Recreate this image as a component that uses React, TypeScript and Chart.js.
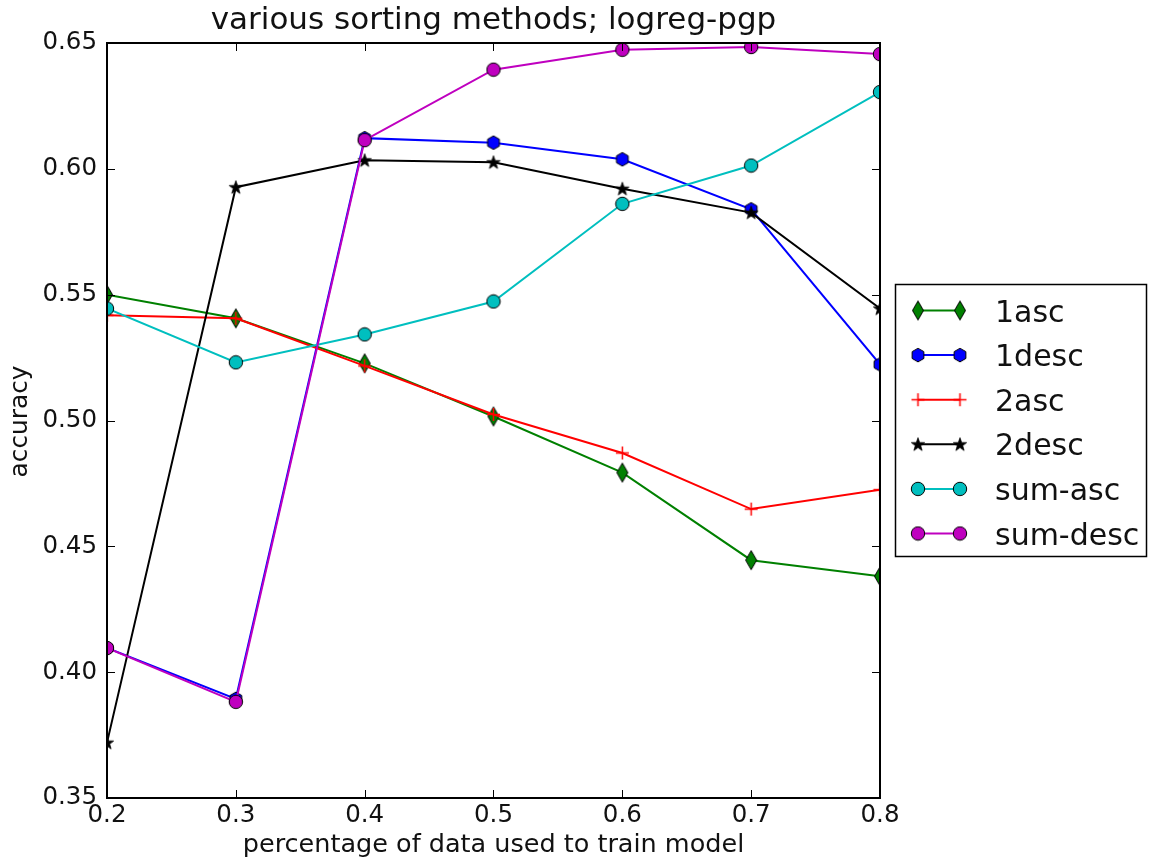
import React, { useEffect, useRef } from 'react';
import { Chart, registerables } from 'chart.js';

Chart.register(...registerables);

const xValues = [0.2, 0.3, 0.4, 0.5, 0.6, 0.7, 0.8];
const asc1 = [0.55, 0.5406, 0.5227, 0.5016, 0.4793, 0.4445, 0.4381];
const desc1 = [0.4096, 0.3894, 0.6122, 0.6104, 0.6038, 0.5839, 0.5223];
const asc2 = [0.5418, 0.5406, 0.5217, 0.5024, 0.4871, 0.4648, 0.4725];
const desc2 = [0.372, 0.5927, 0.6034, 0.6026, 0.5921, 0.5826, 0.5445];
const sumAsc = [0.5445, 0.5231, 0.5342, 0.5473, 0.5861, 0.6013, 0.6305];
const sumDesc = [0.4096, 0.3882, 0.6114, 0.6394, 0.6473, 0.6484, 0.6456];

const seriesLabels = ['1asc', '1desc', '2asc', '2desc', 'sum-asc', 'sum-desc'];
const seriesColors = ['#008000', '#0000ff', '#ff0000', '#000000', '#00bfbf', '#bf00bf'];
const seriesMarkers = ['diamond', 'hexagon', 'plus', 'star', 'circle', 'circle'];
const seriesValues = [asc1, desc1, asc2, desc2, sumAsc, sumDesc];

const xTicks = [0.2, 0.3, 0.4, 0.5, 0.6, 0.7, 0.8];
const yTicks = [0.35, 0.4, 0.45, 0.5, 0.55, 0.6, 0.65];

const titleText = 'various sorting methods; logreg-pgp';
const xTitle = 'percentage of data used to train model';
const yTitle = 'accuracy';

const FONT = '"DejaVu Sans", sans-serif';

function makeMarker(kind: string, color: string): HTMLCanvasElement {
  const c = document.createElement('canvas');
  const g = c.getContext('2d') as CanvasRenderingContext2D;
  const setSize = (w: number, h: number) => {
    c.width = w;
    c.height = h;
  };
  if (kind === 'diamond') {
    setSize(14, 22);
    g.beginPath();
    g.moveTo(7, 1.5);
    g.lineTo(12.5, 11);
    g.lineTo(7, 20.5);
    g.lineTo(1.5, 11);
    g.closePath();
    g.fillStyle = color;
    g.fill();
    g.strokeStyle = '#000';
    g.lineWidth = 1;
    g.stroke();
  } else if (kind === 'hexagon') {
    setSize(16, 16);
    g.beginPath();
    for (let k = 0; k < 6; k++) {
      const a = -Math.PI / 2 + (k * Math.PI) / 3;
      const px = 8 + 6.8 * Math.cos(a);
      const py = 8 + 6.8 * Math.sin(a);
      if (k === 0) g.moveTo(px, py);
      else g.lineTo(px, py);
    }
    g.closePath();
    g.fillStyle = color;
    g.fill();
    g.strokeStyle = '#000';
    g.lineWidth = 1;
    g.stroke();
  } else if (kind === 'star') {
    setSize(16, 16);
    g.beginPath();
    for (let k = 0; k < 10; k++) {
      const a = -Math.PI / 2 + (k * Math.PI) / 5;
      const r = k % 2 === 0 ? 7 : 2.8;
      const px = 8 + r * Math.cos(a);
      const py = 8.5 + r * Math.sin(a);
      if (k === 0) g.moveTo(px, py);
      else g.lineTo(px, py);
    }
    g.closePath();
    g.fillStyle = color;
    g.fill();
    g.strokeStyle = '#000';
    g.lineWidth = 0.8;
    g.stroke();
  } else if (kind === 'plus') {
    setSize(15, 15);
    g.strokeStyle = color;
    g.lineWidth = 1.5;
    g.beginPath();
    g.moveTo(7.5, 1);
    g.lineTo(7.5, 14);
    g.moveTo(1, 7.5);
    g.lineTo(14, 7.5);
    g.stroke();
  } else {
    setSize(16, 16);
    g.beginPath();
    g.arc(8, 8, 6.7, 0, Math.PI * 2);
    g.fillStyle = color;
    g.fill();
    g.strokeStyle = '#000';
    g.lineWidth = 1;
    g.stroke();
  }
  return c;
}

export default function App() {
  const ref = useRef<HTMLCanvasElement | null>(null);

  useEffect(() => {
    const canvas = ref.current;
    if (!canvas) return;
    const markers = seriesMarkers.map((m, i) => makeMarker(m, seriesColors[i]));

    const decorPlugin = {
      id: 'decor',
      afterDatasetsDraw(chart: any) {
        const { ctx, chartArea: a, scales } = chart;
        ctx.save();
        ctx.strokeStyle = '#000';
        ctx.lineWidth = 1;
        ctx.beginPath();
        for (const v of xTicks) {
          const px = Math.round(scales.x.getPixelForValue(v)) + 0.5;
          ctx.moveTo(px, a.bottom);
          ctx.lineTo(px, a.bottom - 8);
          ctx.moveTo(px, a.top);
          ctx.lineTo(px, a.top + 8);
        }
        for (const v of yTicks) {
          const py = Math.round(scales.y.getPixelForValue(v)) + 0.5;
          ctx.moveTo(a.left, py);
          ctx.lineTo(a.left + 8, py);
          ctx.moveTo(a.right, py);
          ctx.lineTo(a.right - 8, py);
        }
        ctx.stroke();
        ctx.lineWidth = 2;
        ctx.strokeRect(a.left, a.top, a.right - a.left, a.bottom - a.top);

        ctx.fillStyle = '#111';
        ctx.textAlign = 'center';
        ctx.textBaseline = 'alphabetic';
        const cx = (a.left + a.right) / 2;
        ctx.font = `31px ${FONT}`;
        ctx.fillText(titleText, cx, 29);
        ctx.font = `25.5px ${FONT}`;
        ctx.fillText(xTitle, cx, 852);
        ctx.save();
        ctx.translate(27, (a.top + a.bottom) / 2 + 1);
        ctx.rotate(-Math.PI / 2);
        ctx.font = `24.8px ${FONT}`;
        ctx.fillText(yTitle, 0, 0);
        ctx.restore();

        // legend
        const lx = 895.5, ly = 284.5, lw = 251, lh = 272;
        ctx.fillStyle = '#fff';
        ctx.fillRect(lx, ly, lw, lh);
        ctx.lineWidth = 1.5;
        ctx.strokeStyle = '#000';
        ctx.strokeRect(lx, ly, lw, lh);
        ctx.font = `30px ${FONT}`;
        ctx.textAlign = 'left';
        seriesLabels.forEach((lab, i) => {
          const ry = 310.5 + i * 44.6;
          ctx.strokeStyle = seriesColors[i];
          ctx.lineWidth = 2;
          ctx.beginPath();
          ctx.moveTo(918, ry);
          ctx.lineTo(960, ry);
          ctx.stroke();
          const m = markers[i];
          ctx.drawImage(m, 918 - m.width / 2, ry - m.height / 2);
          ctx.drawImage(m, 960 - m.width / 2, ry - m.height / 2);
          ctx.fillStyle = '#111';
          ctx.fillText(lab, 995, ry + 11);
        });
        ctx.restore();
      },
    };

    const datasets = seriesLabels.map((lab, i) => ({
      label: lab,
      data: xValues.map((x, j) => ({ x, y: seriesValues[i][j] })),
      borderColor: seriesColors[i],
      backgroundColor: seriesColors[i],
      borderWidth: 2,
      pointStyle: markers[i],
      pointRadius: 6,
      tension: 0,
      clip: 0,
      order: seriesLabels.length - i,
    }));

    const chart = new Chart(canvas, {
      type: 'line',
      data: { datasets },
      options: {
        animation: false,
        responsive: false,
        events: [],
        layout: { padding: { top: 43, right: 269, left: 0, bottom: 0 } },
        plugins: {
          legend: { display: false },
          title: { display: false },
          tooltip: { enabled: false },
        },
        scales: {
          x: {
            type: 'linear',
            min: 0.2,
            max: 0.8,
            afterBuildTicks: (s: any) => {
              s.ticks = xTicks.map((v) => ({ value: v }));
            },
            afterFit: (s: any) => {
              s.height = 63;
            },
            ticks: {
              callback: (v: any) => Number(v).toFixed(1),
              font: { family: FONT, size: 24.5 },
              color: '#111',
              padding: 3,
              maxRotation: 0,
              autoSkip: false,
            },
            grid: { display: false, drawTicks: false },
            border: { display: false },
          },
          y: {
            type: 'linear',
            min: 0.35,
            max: 0.65,
            afterBuildTicks: (s: any) => {
              s.ticks = yTicks.map((v) => ({ value: v }));
            },
            afterFit: (s: any) => {
              s.width = 107;
            },
            ticks: {
              callback: (v: any) => Number(v).toFixed(2),
              font: { family: FONT, size: 24.5 },
              color: '#111',
              padding: 10,
              autoSkip: false,
            },
            grid: { display: false, drawTicks: false },
            border: { display: false },
          },
        },
      } as any,
      plugins: [decorPlugin],
    });
    return () => chart.destroy();
  }, []);

  return (
    <div style={{ position: 'fixed', left: 0, top: 0, width: 1149, height: 861, background: '#fff' }}>
      <canvas ref={ref} width={1149} height={861} style={{ display: 'block' }} />
    </div>
  );
}
